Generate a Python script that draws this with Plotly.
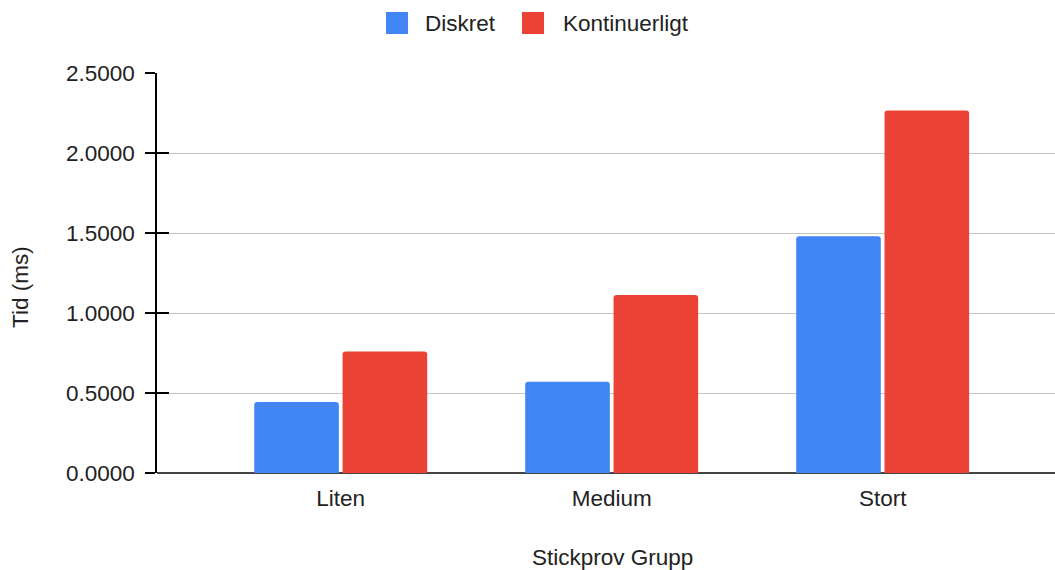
import plotly.graph_objects as go

# Data
groups = ["Liten", "Medium", "Stort"]
diskret = [0.444, 0.571, 1.479]
kontinuerligt = [0.760, 1.112, 2.265]
series_names = ["Diskret", "Kontinuerligt"]
y_ticks = [0.0, 0.5, 1.0, 1.5, 2.0, 2.5]

BLUE = "#4285F4"
RED = "#EA4335"
FONT = "Liberation Sans, Arial, sans-serif"
FS = 22.5
TXT = "#222222"

W, H = 1055, 570
L, R, T, B = 157, 0, 73, 97
PW, PH = W - L - R, H - T - B


def px_x(px):
    return (px - L) / PW


def px_y(py):
    return (H - B - py) / PH


fig = go.Figure()
fig.add_trace(go.Bar(x=groups, y=diskret, name=series_names[0],
                     marker=dict(color=BLUE, line=dict(width=0))))
fig.add_trace(go.Bar(x=groups, y=kontinuerligt, name=series_names[1],
                     marker=dict(color=RED, line=dict(width=0))))

fig.update_layout(
    width=W, height=H,
    margin=dict(l=L, r=R, t=T, b=B, pad=0),
    paper_bgcolor="white", plot_bgcolor="white",
    barmode="group", bargap=0.348, bargroupgap=0.042,
    barcornerradius=3,
    showlegend=False,
    font=dict(family=FONT, size=FS, color=TXT),
    xaxis=dict(
        type="category", range=[-0.678, 2.636],
        showgrid=False, showline=False, zeroline=False,
        ticks="", ticklabelstandoff=9,
        tickfont=dict(size=FS, color=TXT),
    ),
    yaxis=dict(
        range=[0, 2.5], tickvals=y_ticks, tickformat=".4f",
        showgrid=True, gridcolor="#c6c6c6", gridwidth=1.3,
        zeroline=True, zerolinecolor="#444444", zerolinewidth=2,
        showline=True, linecolor="black", linewidth=1.5,
        ticks="outside", ticklen=10, tickwidth=2, tickcolor="black",
        ticklabelstandoff=6,
        tickfont=dict(size=FS, color=TXT),
    ),
    # right-hand half of the crossing tick marks
    yaxis2=dict(
        overlaying="y", range=[0, 2.5], side="left", anchor="x",
        tickvals=y_ticks, showticklabels=False,
        showgrid=False, zeroline=False, showline=False,
        ticks="inside", ticklen=12, tickwidth=2, tickcolor="black",
    ),
)

# An invisible trace keeps the second y axis (and its tick marks) drawn
fig.add_trace(go.Scatter(x=[groups[0]], y=[0], yaxis="y2", mode="markers",
                         marker=dict(opacity=0), hoverinfo="skip",
                         showlegend=False))

# Axis titles
fig.add_annotation(text="Stickprov Grupp", xref="paper", yref="paper",
                   x=px_x(612), y=px_y(557), xanchor="center", yanchor="middle",
                   showarrow=False, font=dict(size=FS, color=TXT))
fig.add_annotation(text="Tid (ms)", xref="paper", yref="paper",
                   x=px_x(20), y=px_y(287), xanchor="center", yanchor="middle",
                   textangle=-90, showarrow=False,
                   font=dict(size=FS, color=TXT))

# Legend at the top
legend_items = [(series_names[0], BLUE, 386, 423), (series_names[1], RED, 522, 561)]
for name, color, sx, tx in legend_items:
    fig.add_shape(type="rect", xref="paper", yref="paper",
                  x0=px_x(sx), x1=px_x(sx + 22), y0=px_y(34), y1=px_y(12),
                  fillcolor=color, line=dict(width=0))
    fig.add_annotation(text=name, xref="paper", yref="paper",
                       x=px_x(tx), y=px_y(23), xanchor="left", yanchor="middle",
                       showarrow=False, font=dict(size=FS, color=TXT))

fig.write_html("out.html")
